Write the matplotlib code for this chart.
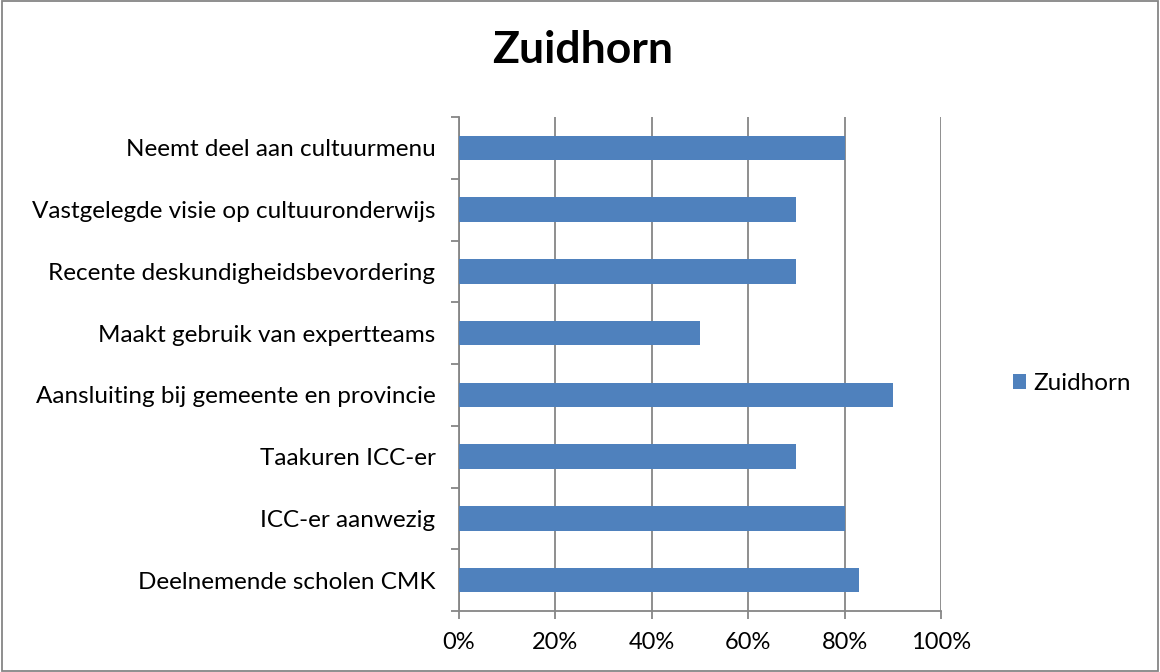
import matplotlib.pyplot as plt
from matplotlib.patches import Rectangle
from matplotlib.ticker import FuncFormatter

plt.rcParams["font.family"] = ["Lato", "DejaVu Sans"]

categories = [
    "Deelnemende scholen CMK",
    "ICC-er aanwezig",
    "Taakuren ICC-er",
    "Aansluiting bij gemeente en provincie",
    "Maakt gebruik van expertteams",
    "Recente deskundigheidsbevordering",
    "Vastgelegde visie op cultuuronderwijs",
    "Neemt deel aan cultuurmenu",
]
values = [0.83, 0.80, 0.70, 0.90, 0.50, 0.70, 0.70, 0.80]
series_name = "Zuidhorn"
bar_color = "#4F81BD"
grid_color = "#868686"

fig = plt.figure(figsize=(11.6, 6.72), dpi=100)
ax = fig.add_axes([459 / 1160, 1 - 611 / 672, 482 / 1160, 494 / 672])

y = range(len(categories))
ax.barh(y, values, height=0.4, color=bar_color, label=series_name, zorder=3)

ax.set_xlim(0, 1)
ax.set_ylim(-0.5, len(categories) - 0.5)
ax.set_xticks([0, 0.2, 0.4, 0.6, 0.8, 1.0])
ax.xaxis.set_major_formatter(FuncFormatter(lambda v, _: f"{v * 100:.0f}%"))
ax.set_yticks(list(y))
ax.set_yticklabels(categories)
ax.set_yticks([i - 0.5 for i in range(len(categories) + 1)], minor=True)

ax.grid(axis="x", color=grid_color, linewidth=1.3, zorder=0)
for side in ["top", "right"]:
    ax.spines[side].set_visible(False)
for side in ["left", "bottom"]:
    ax.spines[side].set_color(grid_color)
    ax.spines[side].set_linewidth(1.3)

ax.tick_params(axis="y", which="major", length=0, pad=17, labelsize=17.5)
ax.tick_params(axis="y", which="minor", length=6, width=1.3, color=grid_color)
ax.tick_params(axis="x", length=6, width=1.3, color=grid_color, labelsize=17, pad=9)

fig.suptitle("Zuidhorn", x=0.502, y=0.955, fontsize=32, fontweight="bold")

ax.legend(loc="center left", bbox_to_anchor=(1.104, 0.46), frameon=False,
          fontsize=17.5, handlelength=0.55, handleheight=0.55, handletextpad=0.3)

fig.patches.append(Rectangle((0.002, 0.002), 0.996, 0.996, transform=fig.transFigure,
                             fill=False, edgecolor=grid_color, linewidth=1.3))

fig.savefig("out.png", dpi=100)
